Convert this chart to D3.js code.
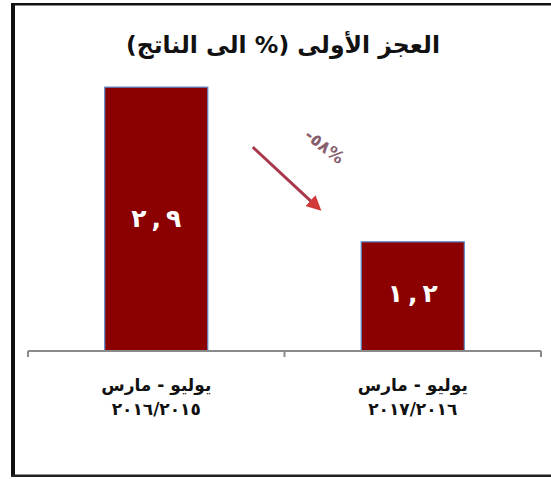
<!DOCTYPE html>
<html lang="ar">
<head>
<meta charset="utf-8">
<script src="https://cdn.jsdelivr.net/npm/d3@7"></script>
<style>
  html, body { margin: 0; padding: 0; background: #ffffff; }
  svg { display: block; }
  text { font-family: "DejaVu Sans", "Noto Sans", sans-serif; }
</style>
</head>
<body>
<svg id="chart" width="551" height="479"></svg>
<script>
// Primary deficit, percent of GDP
const periodLabels = ["يوليو - مارس", "يوليو - مارس"];
const yearLabels = ["٢٠١٦/٢٠١٥", "٢٠١٧/٢٠١٦"];
const values = [2.9, 1.2];
const changeLabel = "-٥٨%";
const titleText = "العجز الأولى (% الى الناتج)";

const svg = d3.select("#chart");
const W = 551, H = 479;

// Western digits -> Arabic-Indic digits, decimal mark shown as a comma
const arabicDigits = "٠١٢٣٤٥٦٧٨٩";
const toArabic = s => s.replace(/[0-9]/g, c => arabicDigits[+c]).replace(".", ",");
const fmt = v => toArabic(d3.format(".1f")(v));

// Frame
svg.append("rect").attr("x", 0).attr("y", 0).attr("width", W).attr("height", H).attr("fill", "#ffffff");
svg.append("rect").attr("x", 11).attr("y", 3).attr("width", W - 11).attr("height", 2.5).attr("fill", "#111");
svg.append("rect").attr("x", 11).attr("y", 3).attr("width", 4).attr("height", 474).attr("fill", "#111");
svg.append("rect").attr("x", 11).attr("y", 474.5).attr("width", W - 11).attr("height", 2.5).attr("fill", "#222");

// Scales
const idx = values.map((_, i) => i);
const x = d3.scaleBand().domain(idx).range([28, 541]).paddingInner(0.598).paddingOuter(0.299);
const xEdges = d3.scaleBand().domain(idx).range([28, 541]).padding(0);
const y = d3.scaleLinear().domain([0, 3]).range([351, 78]);

// Title
svg.append("text")
  .attr("x", 283).attr("y", 53)
  .attr("text-anchor", "middle")
  .attr("direction", "rtl")
  .attr("font-size", 23.5).attr("font-weight", "bold")
  .attr("fill", "#111")
  .text(titleText);

// Bars
svg.append("g").selectAll("rect").data(values).join("rect")
  .attr("x", (d, i) => x(i))
  .attr("y", d => y(d))
  .attr("width", x.bandwidth())
  .attr("height", d => y(0) - y(d))
  .attr("fill", "#8b0000")
  .attr("stroke", "#5b8ed0")
  .attr("stroke-width", 1.2);

// Value labels inside bars (characters spaced out, kept in logical order)
svg.append("g").selectAll("text").data(values).join("text")
  .attr("x", (d, i) => x(i) + x.bandwidth() / 2)
  .attr("y", (d, i) => i === 0 ? 227 : 302)
  .attr("text-anchor", "middle")
  .attr("direction", "ltr")
  .style("unicode-bidi", "bidi-override")
  .attr("font-size", 25).attr("font-weight", "bold")
  .attr("fill", "#ffffff")
  .text(d => fmt(d).split("").join("\u2009"));

// Axis line with ticks at the category boundaries
const axisG = svg.append("g").attr("transform", `translate(0,${y(0)})`)
  .call(d3.axisBottom(x).tickSize(0).tickFormat(""));
axisG.select(".domain").attr("stroke", "#8a8a8a").attr("stroke-width", 2)
  .attr("d", `M${xEdges.range()[0]},0H${xEdges.range()[1]}`);
const edgePos = idx.map(i => xEdges(i)).concat([xEdges.range()[1]]);
axisG.selectAll(".edge").data(edgePos).join("line")
  .attr("class", "edge")
  .attr("x1", d => d).attr("x2", d => d)
  .attr("y1", 0).attr("y2", 6)
  .attr("stroke", "#8a8a8a").attr("stroke-width", 2);

// Category labels (two lines)
const labG = svg.append("g");
labG.selectAll("text.p").data(periodLabels).join("text")
  .attr("class", "p")
  .attr("x", (d, i) => x(i) + x.bandwidth() / 2)
  .attr("y", 391)
  .attr("text-anchor", "middle")
  .attr("direction", "rtl")
  .attr("font-size", 17).attr("font-weight", "bold")
  .attr("fill", "#111")
  .text(d => d);
labG.selectAll("text.yr").data(yearLabels).join("text")
  .attr("class", "yr")
  .attr("x", (d, i) => x(i) + x.bandwidth() / 2)
  .attr("y", 415)
  .attr("text-anchor", "middle")
  .attr("font-size", 17).attr("font-weight", "bold")
  .attr("letter-spacing", 2)
  .attr("fill", "#111")
  .text(d => d);

// Change arrow between the two bars
const defs = svg.append("defs");
defs.append("marker")
  .attr("id", "head")
  .attr("viewBox", "0 0 10 10")
  .attr("refX", 8).attr("refY", 5)
  .attr("markerWidth", 5).attr("markerHeight", 5)
  .attr("orient", "auto")
  .append("path").attr("d", "M0,0L10,5L0,10Z").attr("fill", "#d23a3a");

const ax0 = x(0) + x.bandwidth() + 45, ay0 = y(values[0]) + 60;
const ax1 = x(1) - 42, ay1 = y(values[1]) - 33;
svg.append("line")
  .attr("x1", ax0).attr("y1", ay0)
  .attr("x2", ax1).attr("y2", ay1)
  .attr("stroke", "#a8384a").attr("stroke-width", 3)
  .attr("marker-end", "url(#head)");

svg.append("text")
  .attr("transform", `translate(321,151) rotate(38)`)
  .attr("text-anchor", "middle")
  .attr("font-size", 17).attr("font-weight", "bold")
  .attr("letter-spacing", 1)
  .attr("fill", "#86606c")
  .text(changeLabel);
</script>
</body>
</html>
